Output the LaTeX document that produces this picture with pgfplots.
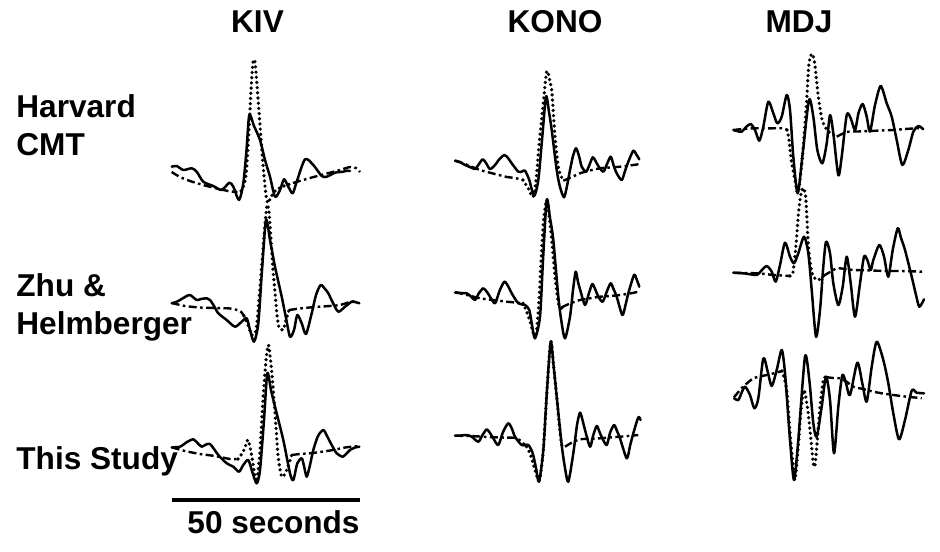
\documentclass[border=0pt]{standalone}
\usepackage{pgfplots}
\pgfplotsset{compat=1.18}
\usepackage{fontspec}
\setmainfont{Liberation Sans}

\pgfplotsset{
  obs/.style={black, line width=1.25pt, smooth, tension=0.45, line join=round, line cap=round},
  synp/.style={black, line width=1.8pt, smooth, tension=0.45, line cap=round, dash pattern=on 0pt off 2.6pt},
  synf/.style={black, line width=1.2pt, smooth, tension=0.45, dash pattern=on 4pt off 1.7pt on 1.3pt off 1.7pt},
}
\newcommand{\lab}{\bfseries\fontsize{15.8}{18}\selectfont}

\begin{document}
\begin{tikzpicture}
\begin{axis}[
  width=470pt, height=275.5pt, scale only axis,
  xmin=0, xmax=940, ymin=0, ymax=551, y dir=reverse,
  hide axis, clip=false,
]
\path (axis cs:0,0) rectangle (axis cs:940,551);

% ---------------- KIV, Harvard CMT ----------------
\addplot[obs] coordinates {(171.7,166.7)(176.7,166)(183.3,170)(191.7,168.3)(196.7,171.7)(203.3,181.7)(213.3,186)(221.7,190)(229.3,182.7)(233.3,186.7)(239,200)(243.3,183.3)(246.5,150)(249.3,115)(254,126)(260,140)(265,160)(270,176.7)(275,196.7)(280,190)(284,179.3)(288.3,186.7)(292.7,193.3)(296.7,181.7)(305,159.3)(313.3,165)(321.7,176)(326.7,176.7)(335,172.7)(343.3,171.7)(346.7,170.7)(350,171)};
\addplot[synf] coordinates {(171.7,172)(180,177)(190,181)(203,185)(215,188)(228,191)(236,192)};
\addplot[synp] coordinates {(236,192)(242,190)(246,175)(249,130)(251,90)(253,62)(255,62)(257,85)(260,125)(263,165)(266,195)(268,203)(271,197)(276,190)(284,186)(293,183)};
\addplot[synf] coordinates {(293,183)(310,178)(325,174)(340,170)(350,167)(356,168)(360,172)};

% ---------------- KIV, Zhu & Helmberger ----------------
\addplot[obs] coordinates {(171.7,303.3)(176,302)(180,300)(185,297)(190,295)(196.7,300)(201,299)(206.7,298.3)(210,300)(214,306)(218.3,313.3)(226.7,320)(235,326.7)(241.7,321.7)(246.7,318.3)(250,330)(254,341.7)(258.3,323.3)(262,270)(266,220)(270,240)(275,266.7)(281.7,296.7)(286,318)(290,336.7)(294,330)(297.3,315)(301.7,323.3)(306,334)(311.7,313.3)(316,295)(320.7,285)(325,289)(328.3,293.3)(333,303)(338.3,311.7)(345,306.7)(351.7,301.7)(355,302)(359.3,303.3)};
\addplot[synf] coordinates {(171.7,303)(185,306)(200,307.5)(215,308)(230,308.5)(240,311)(244,316)};
\addplot[synp] coordinates {(244,316)(248,325)(252,335)(256,330)(259,300)(262,262)(265,225)(267,205)(269,212)(271,240)(273,270)(275,292)(277,315)(279,327)(283,330)(286,320)(289,310)};
\addplot[synf] coordinates {(289,310)(300,308.5)(315,307)(330,306)(340,305)(350,302)(356,301)};

% ---------------- KIV, This Study ----------------
\addplot[obs] coordinates {(171.7,447.3)(180,446.7)(187,442)(193.3,439.3)(197.5,443)(201.7,446.7)(206,444.5)(210,444)(214,449)(218.3,455)(226.7,463.3)(233.3,466.7)(239,471.7)(243.3,465)(248.3,460)(252.7,473.3)(256.7,483.3)(260,470)(264,420)(267.3,373.3)(271,390)(275,406.7)(283.3,440)(290,473.3)(293.3,480)(297.3,463.3)(301.7,458.3)(304,466)(306.7,476.7)(310,465)(313.3,450)(318,436)(323.3,430)(327,436)(331.7,445)(336.7,453.3)(342.7,456.7)(347,453)(350,450)(355,447.5)(359.3,446.7)};
\addplot[synf] coordinates {(171.7,447.3)(185,451)(200,454)(215,456)(230,459)(238,459)};
\addplot[synp] coordinates {(238,459)(243,452)(246.5,443)(248.3,440)(251,452)(254,470)(256.7,481.7)(260,450)(263,400)(266,360)(268.3,345)(270,355)(272,375)(275,413)(278,455)(281.7,476.7)(286.7,470)(291.7,455)};
\addplot[synf] coordinates {(291.7,455)(300,454)(310,453.3)(320,452)(333,450)(345,447.5)(352,446.7)(360,446)};

% ---------------- KONO, Harvard CMT ----------------
\addplot[obs] coordinates {(455,160.7)(460,162)(465,165)(470,167)(475,169)(479,164)(482.7,159.3)(486,163)(490,169)(495,165)(499.5,159)(504.3,155)(508,158)(511.7,163.3)(518.3,171.7)(522,171.5)(525,170.7)(529.3,180)(534,196)(538.3,180)(542,140)(546,96.7)(549,112)(551.7,130)(556.7,170)(560,187)(564,197.3)(567,186)(570,170)(573,156)(576,148.3)(579,156)(581.7,166.7)(586,171.7)(589,166)(592.7,157.3)(595.5,161)(598.3,166)(603.3,171.7)(607,164)(610.7,156.7)(613.5,165)(616.7,173.3)(621.7,180)(625,171)(628.3,161.7)(633.3,150.7)(636,154)(639.3,159.3)};
\addplot[synf] coordinates {(455,160.7)(465,164)(480,170)(495,174)(507,177)(515,178)(523,180)};
\addplot[synp] coordinates {(523,180)(528,188)(533,197)(536,180)(538.3,153.3)(541,125)(543.3,103)(545,85)(546.5,72)(548,72)(550,82)(551.7,90)(553.5,115)(555,137)(558.3,167)(561,176)(563.3,180.7)};
\addplot[synf] coordinates {(563.3,180.7)(572,177)(580,173.3)(590,170.5)(600,168.3)(610,167.5)(620,166.7)(630,165.5)(640,164)};

% ---------------- KONO, Zhu & Helmberger ----------------
\addplot[obs] coordinates {(455,292.7)(461,293)(466.7,293.3)(471,296.5)(475,300)(479,293)(483.3,288.3)(487,292)(490,296.7)(495,303.3)(499.5,291)(504.3,281.7)(508,286)(511.7,293.3)(518.3,303.3)(525,305)(529.3,310)(532,325)(535,338.3)(540,316.7)(543,260)(546.7,200)(550,218)(553.3,240)(558.3,296.7)(561.5,322)(565,338.3)(570,316.7)(573,290)(575.7,271.7)(578,282)(580.7,291.7)(585,305)(589,293)(592.3,284)(595.5,290)(598.3,296.7)(602.7,301.7)(607,291)(610.7,283.3)(613.5,289)(616.7,296.7)(622.3,315)(625.5,305)(628.3,293.3)(634,275)(636.5,279)(639.3,286.7)};
\addplot[synf] coordinates {(455,292)(467,295)(480,298.3)(493,300)(507,301.7)(523,303.3)};
\addplot[synp] coordinates {(523,303.3)(527.3,313.3)(531,325)(533.3,333.3)(536,336.7)(539,300)(541,262)(543.3,223.3)(545,208)(546.7,200)(548.5,210)(551.7,240)(555,276.7)(558.3,303.3)(561.7,308.3)};
\addplot[synf] coordinates {(561.7,307.3)(570,303.5)(580,300)(590,298.3)(600,296.7)(610,296)(620,295)(630,293.5)(638.3,291.7)};

% ---------------- KONO, This Study ----------------
\addplot[obs] coordinates {(455,435.7)(461,435.5)(466.7,435)(471.7,436.7)(478.3,441.7)(482.5,435)(486.7,429.3)(490,433)(493.3,438.3)(498.3,445)(503,432)(508.3,423.3)(512,429)(515,436.7)(521.7,445)(528.3,445)(532.7,453.3)(536,468)(539,481.7)(543.3,450)(547,390)(550.7,341.7)(553.5,365)(556.7,396.7)(561.7,445)(565,468)(568.3,481.7)(573.3,453.3)(577,425)(580,412.7)(582.5,420)(585,430)(590,446.7)(593,436)(596.7,426)(599.5,432)(602.3,438.3)(606.7,445)(610,433)(614,425)(617,431)(620,438.3)(626.7,458.3)(630,446)(633.3,433.3)(638.3,417.3)(640.5,420)};
\addplot[synf] coordinates {(455,435.7)(470,436)(483.3,436.7)(500,437.5)(516.7,438.3)(526.7,446.7)};
\addplot[synp] coordinates {(526.7,446.7)(530,453.3)(535,470)(538.3,480)(540,478)(543.3,450)(547,390)(550.7,341.7)(553.5,365)(556.7,396.7)(559,422)(561.7,445)(565,446.7)};
\addplot[synf] coordinates {(565,446.7)(572,442.5)(580,439.3)(590,438.8)(600,438.3)(610,437.5)(620,436.7)(630,435.8)(638.3,435)};

% ---------------- MDJ, Harvard CMT ----------------
\addplot[obs] coordinates {(733.3,130)(737,131)(741.7,131.7)(746,127)(750.7,124)(755,130)(759.3,140.7)(763.3,126.7)(768.3,101.7)(773.3,113.3)(777.3,123.3)(781.7,116.7)(786.7,95)(790,110)(793.3,156.7)(797.7,193.3)(802.7,153.3)(809,100)(813.3,116.7)(817.3,150)(822.3,163.3)(826.7,143.3)(830,115)(833.3,133.3)(838.3,175)(841.7,156.7)(846.7,115)(850.7,118.3)(855,130)(858.5,113)(862.7,104)(866.7,116.7)(870,131.7)(875,105)(880.7,86)(886.7,103.3)(891.7,116.7)(896.7,140)(902.3,165)(908.3,150)(913.3,131.7)(918.3,126)(923.3,129.3)};
\addplot[synf] coordinates {(733.3,130)(743,129)(753.3,128.3)(763,128.3)(773.3,128.3)(783.3,128.3)(787,130)};
\addplot[synp] coordinates {(787,130)(789,140)(791.7,163.3)(795,180)(797.5,193)(800,180)(803,150)(806.7,100)(808.5,68)(810.5,56)(812.5,54)(814.5,62)(816,75)(818.3,96.7)(821.7,118)(825,127)(829,132)(836.7,136.7)};
\addplot[synf] coordinates {(836.7,136.7)(846.7,132)(858,131.5)(870,131)(881,130.5)(893.3,130)(905,129)(916.7,128.3)(923,128)};

% ---------------- MDJ, Zhu & Helmberger ----------------
\addplot[obs] coordinates {(733.3,272.7)(745,273.5)(756.7,275)(761,271)(766.7,266)(771.7,271.7)(775.7,281.7)(780,265)(785,242.7)(790,256.7)(794,263.3)(798.3,253.3)(804,236.7)(808.3,253.3)(811.7,290)(816,336.7)(820,310)(823,270)(826,241.7)(830,253.3)(833.3,283.3)(838.3,305)(842.7,286.7)(846.7,256.7)(850.7,283.3)(855,316.7)(860,283.3)(864,256.7)(867.3,260)(870.7,270)(873.3,260)(879.3,245)(884,256.7)(888.3,276.7)(892.7,250)(897.7,228.3)(901,238)(905,250)(911.7,276.7)(916,295)(919.3,306.7)(924,299.3)};
\addplot[synf] coordinates {(733.3,272.7)(745,273)(756.7,273.3)(765,274)(773.3,275)(782,275.5)(790,276)};
\addplot[synp] coordinates {(790,276)(793,272)(796,245)(798.3,215)(800.5,196)(803,188)(805.5,195)(807,220)(808,240)(810,262)(813,276)(818,280)(823.3,276)};
\addplot[synf] coordinates {(823.3,276)(830,272)(836.7,268.3)(845,269)(853.3,270)(865,270.3)(876.7,270.7)(888,271)(900,271)(912,271.3)(923.3,271.7)};

% ---------------- MDJ, This Study ----------------
\addplot[obs] coordinates {(734,398.3)(738.3,400)(741.5,393)(745,386.7)(750,395)(754.3,408.3)(758.3,398.3)(763.3,358.3)(767.7,371.7)(771.7,386)(776.7,370)(781.7,350)(785,373.3)(790,440)(794,480)(798.3,440)(805,356.7)(809.3,380)(813.3,423.3)(816.7,436.7)(821.7,406.7)(826,376.7)(830,400)(834,453.3)(838.3,406.7)(842.3,375)(846,383.3)(850,395)(857.3,362.7)(862.3,383.3)(866.7,401.7)(871.7,366.7)(876.7,341.7)(883.3,360)(888.3,383.3)(893.3,413.3)(899,439.3)(905,420)(911.7,390.7)(916.7,392.7)(924,393.3)};
\addplot[synf] coordinates {(734,397.3)(740,390)(745,385)(753.3,378.3)(760,376.5)(766.7,375)(775,373)(782,371)};
\addplot[synp] coordinates {(782,371)(786.7,390)(790,433.3)(793.3,466.7)(795,480)(798,450)(801,410)(804,390)(807.3,406.7)(810,430)(813.3,463.3)(815,465)(817.3,440)(820,406.7)(823.3,380)(826,377)};
\addplot[synf] coordinates {(826,377)(833,378)(840,378.3)(847,382)(853.3,386.7)(863,389)(873.3,391.7)(883,393.5)(893.3,395)(906.7,396.7)(915,397.5)(921.7,398.3)};

% ---------------- time scale ----------------
\addplot[black, line width=1.6pt] coordinates {(172,500)(360,500)};

% ---------------- labels ----------------
\node[anchor=base, font=\lab] at (axis cs:257.5,33) {KIV};
\node[anchor=base, font=\lab] at (axis cs:555,33) {KONO};
\node[anchor=base, font=\lab] at (axis cs:799,33) {MDJ};
\node[anchor=base west, font=\lab, inner sep=0pt] at (axis cs:16,118) {Harvard};
\node[anchor=base west, font=\lab, inner sep=0pt] at (axis cs:16,155) {CMT};
\node[anchor=base west, font=\lab, inner sep=0pt] at (axis cs:16,296) {Zhu \&};
\node[anchor=base west, font=\lab, inner sep=0pt] at (axis cs:16,334) {Helmberger};
\node[anchor=base west, font=\lab, inner sep=0pt] at (axis cs:16,469) {This Study};
\node[anchor=base east, font=\lab, inner sep=0pt] at (axis cs:360,533) {50 seconds};
\end{axis}
\end{tikzpicture}
\end{document}
